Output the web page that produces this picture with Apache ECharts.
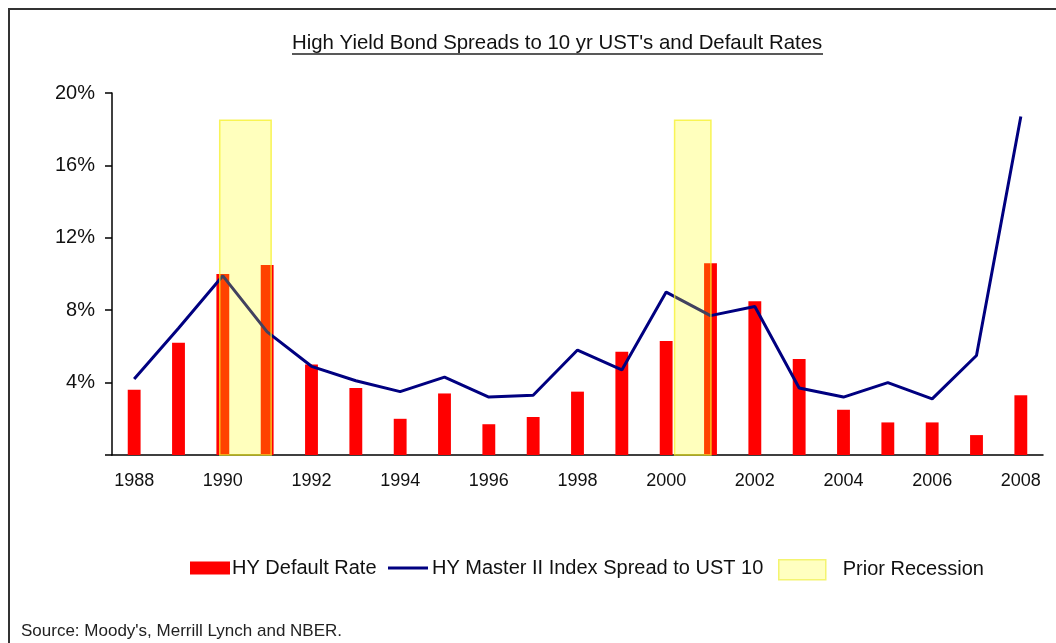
<!DOCTYPE html>
<html>
<head>
<meta charset="utf-8">
<script src="https://cdn.jsdelivr.net/npm/echarts@6/dist/echarts.min.js"></script>
<style>
html,body{margin:0;padding:0;background:#fff;}
#chart{width:1056px;height:643px;}
</style>
</head>
<body>
<div id="chart"></div>
<script>
// ---- data (percent) ----
var years = ['1988','1989','1990','1991','1992','1993','1994','1995','1996','1997','1998','1999','2000','2001','2002','2003','2004','2005','2006','2007','2008'];
var defaultRate = [3.6, 6.2, 10.0, 10.5, 5.0, 3.7, 2.0, 3.4, 1.7, 2.1, 3.5, 5.7, 6.3, 10.6, 8.5, 5.3, 2.5, 1.8, 1.8, 1.1, 3.3];
var spread = [4.2, 7.0, 9.9, 6.8, 4.9, 4.1, 3.5, 4.3, 3.2, 3.3, 5.8, 4.7, 9.0, 7.7, 8.2, 3.7, 3.2, 4.0, 3.1, 5.5, 18.7];
// recessions: [start (year), end (year), shaded height (%)]
var recessions = [[1989.93, 1991.09, 18.5], [2000.19, 2001.01, 18.5]];
var yTicks = [0, 4, 8, 12, 16, 20];

var FONT = 'Arial, "Liberation Sans", sans-serif';
var chart = echarts.init(document.getElementById('chart'), null, {renderer: 'canvas'});

var option = {
  backgroundColor: '#ffffff',
  animation: false,
  title: {
    text: "High Yield Bond Spreads to 10 yr UST's and Default Rates",
    left: 292, top: 33, padding: 0,
    textStyle: {fontFamily: FONT, fontSize: 20.4, fontWeight: 'normal', color: '#111'}
  },
  graphic: [
    {type: 'rect', shape: {x: 9, y: 9, width: 1100, height: 700}, style: {fill: 'none', stroke: '#333', lineWidth: 2}, silent: true},
    {type: 'line', shape: {x1: 292, y1: 54, x2: 823, y2: 54}, style: {stroke: '#222', lineWidth: 1.5}, silent: true},
    {type: 'text', left: 21, top: 623, style: {text: "Source: Moody's, Merrill Lynch and NBER.", font: '17px ' + FONT, fill: '#222'}, silent: true}
  ],
  legend: [
    {data: [{name: 'HY Default Rate', icon: 'rect'}], left: 190, top: 558, padding: 0, itemWidth: 40, itemHeight: 13,
     textStyle: {fontFamily: FONT, fontSize: 20, color: '#111', padding: [0, 0, 0, -3]}},
    {data: [{name: 'HY Master II Index Spread to UST 10', icon: 'rect'}], left: 388, top: 558, padding: 0, itemWidth: 40, itemHeight: 3,
     textStyle: {fontFamily: FONT, fontSize: 20, color: '#111', padding: [0, 0, 0, -1]}},
    {data: [{name: 'Prior Recession', icon: 'rect', itemStyle: {color: '#FFFFC0', borderColor: '#F4F470', borderWidth: 1.5}}], left: 778, top: 559, padding: 0, itemWidth: 47, itemHeight: 20,
     textStyle: {fontFamily: FONT, fontSize: 20, color: '#111', padding: [0, 0, 0, 12]}}
  ],
  grid: {left: 112, right: 13, top: 93, bottom: 188, containLabel: false},
  xAxis: [
    {
      type: 'category', data: years, boundaryGap: true,
      axisLine: {show: true, lineStyle: {color: '#000', width: 1.5}},
      axisTick: {show: false},
      axisLabel: {interval: 1, margin: 17, fontFamily: FONT, fontSize: 18, color: '#111'},
      splitLine: {show: false}
    },
    {
      type: 'value', min: 1987.5, max: 2008.5, show: false,
      axisLine: {show: false}, splitLine: {show: false}
    }
  ],
  yAxis: {
    type: 'value', min: 0, max: 20, interval: 4,
    axisLine: {show: true, lineStyle: {color: '#000', width: 1.5}},
    axisTick: {show: true, inside: false, length: 7, lineStyle: {color: '#000', width: 1.5}},
    axisLabel: {margin: 17, fontFamily: FONT, fontSize: 20, color: '#111',
      formatter: function (v) { return yTicks.indexOf(v) > 0 ? v + '%' : ''; }},
    splitLine: {show: false}
  },
  series: [
    {
      name: 'HY Default Rate', type: 'bar', data: defaultRate, barWidth: '29%',
      itemStyle: {color: '#FF0000'}, z: 2
    },
    {
      name: 'HY Master II Index Spread to UST 10', type: 'line', data: spread,
      symbol: 'none', lineStyle: {color: '#000080', width: 3}, itemStyle: {color: '#000080'}, z: 3
    },
    {
      name: 'Prior Recession', type: 'custom', xAxisIndex: 1, yAxisIndex: 0, z: 4,
      data: recessions,
      itemStyle: {color: '#FFFFC0'},
      renderItem: function (params, api) {
        var p1 = api.coord([api.value(0), api.value(2)]);
        var p2 = api.coord([api.value(1), 0]);
        return {
          type: 'rect',
          shape: {x: p1[0], y: p1[1], width: p2[0] - p1[0], height: p2[1] - p1[1]},
          style: {fill: 'rgba(255,255,0,0.26)', stroke: 'rgba(245,240,40,0.75)', lineWidth: 1.5}
        };
      }
    }
  ]
};
chart.setOption(option);
</script>
</body>
</html>
